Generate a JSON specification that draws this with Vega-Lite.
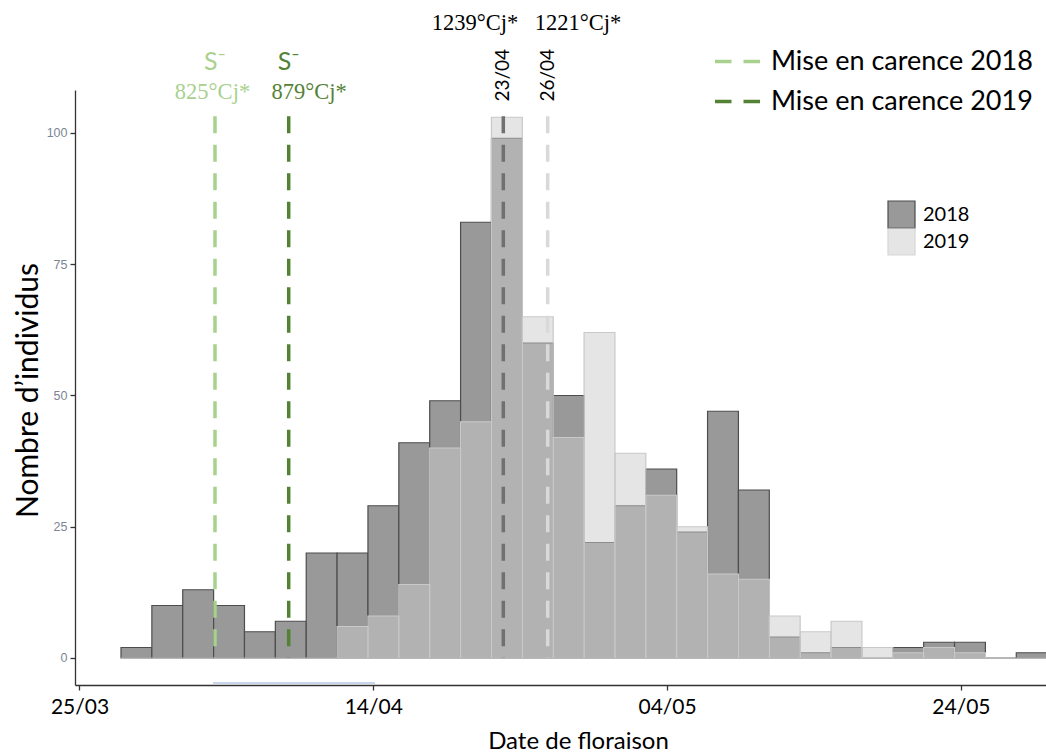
{
  "$schema": "https://vega.github.io/schema/vega-lite/v6.json",
  "width": 971,
  "height": 595,
  "autosize": {"type": "none"},
  "padding": {"left": 75, "top": 90, "right": 0, "bottom": 68},
  "background": "white",
  "config": {"view": {"stroke": null}, "font": "Lato"},
  "resolve": {"scale": {"fill": "independent"}, "legend": {"fill": "independent"}},
  "datasets": {
    "histo": [
      {"debut": "2019-03-27T19:48:00Z", "fin": "2019-03-29T22:14:00Z", "n2018": 2, "n2019": 0},
      {"debut": "2019-03-29T22:14:00Z", "fin": "2019-04-01T00:40:00Z", "n2018": 10, "n2019": 0},
      {"debut": "2019-04-01T00:40:00Z", "fin": "2019-04-03T03:07:00Z", "n2018": 13, "n2019": 0},
      {"debut": "2019-04-03T03:07:00Z", "fin": "2019-04-05T05:33:00Z", "n2018": 10, "n2019": 0},
      {"debut": "2019-04-05T05:33:00Z", "fin": "2019-04-07T07:59:00Z", "n2018": 5, "n2019": 0},
      {"debut": "2019-04-07T07:59:00Z", "fin": "2019-04-09T10:25:00Z", "n2018": 7, "n2019": 0},
      {"debut": "2019-04-09T10:25:00Z", "fin": "2019-04-11T12:51:00Z", "n2018": 20, "n2019": 0},
      {"debut": "2019-04-11T12:51:00Z", "fin": "2019-04-13T15:17:00Z", "n2018": 20, "n2019": 6},
      {"debut": "2019-04-13T15:17:00Z", "fin": "2019-04-15T17:43:00Z", "n2018": 29, "n2019": 8},
      {"debut": "2019-04-15T17:43:00Z", "fin": "2019-04-17T20:10:00Z", "n2018": 41, "n2019": 14},
      {"debut": "2019-04-17T20:10:00Z", "fin": "2019-04-19T22:36:00Z", "n2018": 49, "n2019": 40},
      {"debut": "2019-04-19T22:36:00Z", "fin": "2019-04-22T01:02:00Z", "n2018": 83, "n2019": 45},
      {"debut": "2019-04-22T01:02:00Z", "fin": "2019-04-24T03:28:00Z", "n2018": 99, "n2019": 103},
      {"debut": "2019-04-24T03:28:00Z", "fin": "2019-04-26T05:54:00Z", "n2018": 60, "n2019": 65},
      {"debut": "2019-04-26T05:54:00Z", "fin": "2019-04-28T08:20:00Z", "n2018": 50, "n2019": 42},
      {"debut": "2019-04-28T08:20:00Z", "fin": "2019-04-30T10:46:00Z", "n2018": 22, "n2019": 62},
      {"debut": "2019-04-30T10:46:00Z", "fin": "2019-05-02T13:13:00Z", "n2018": 29, "n2019": 39},
      {"debut": "2019-05-02T13:13:00Z", "fin": "2019-05-04T15:39:00Z", "n2018": 36, "n2019": 31},
      {"debut": "2019-05-04T15:39:00Z", "fin": "2019-05-06T18:05:00Z", "n2018": 24, "n2019": 25},
      {"debut": "2019-05-06T18:05:00Z", "fin": "2019-05-08T20:31:00Z", "n2018": 47, "n2019": 16},
      {"debut": "2019-05-08T20:31:00Z", "fin": "2019-05-10T22:57:00Z", "n2018": 32, "n2019": 15},
      {"debut": "2019-05-10T22:57:00Z", "fin": "2019-05-13T01:23:00Z", "n2018": 4, "n2019": 8},
      {"debut": "2019-05-13T01:23:00Z", "fin": "2019-05-15T03:50:00Z", "n2018": 1, "n2019": 5},
      {"debut": "2019-05-15T03:50:00Z", "fin": "2019-05-17T06:16:00Z", "n2018": 2, "n2019": 7},
      {"debut": "2019-05-17T06:16:00Z", "fin": "2019-05-19T08:42:00Z", "n2018": 0, "n2019": 2},
      {"debut": "2019-05-19T08:42:00Z", "fin": "2019-05-21T11:08:00Z", "n2018": 2, "n2019": 1},
      {"debut": "2019-05-21T11:08:00Z", "fin": "2019-05-23T13:34:00Z", "n2018": 3, "n2019": 2},
      {"debut": "2019-05-23T13:34:00Z", "fin": "2019-05-25T16:00:00Z", "n2018": 3, "n2019": 1},
      {"debut": "2019-05-25T16:00:00Z", "fin": "2019-05-27T18:26:00Z", "n2018": 0, "n2019": 0},
      {"debut": "2019-05-27T18:26:00Z", "fin": "2019-05-29T20:53:00Z", "n2018": 1, "n2019": 0}
    ],
    "carence": [
      {"date": "2019-04-03T05:22:00Z", "serie": "Mise en carence 2018", "degres": "825°Cj*", "date_degres": "2019-04-03T01:18:00Z"},
      {"date": "2019-04-08T05:47:00Z", "serie": "Mise en carence 2019", "degres": "879°Cj*", "date_degres": "2019-04-09T15:00:00Z"}
    ],
    "floraison": [
      {"date": "2019-04-22T20:24:00Z", "serie": "Floraison 2018", "jour": "23/04", "degres": "1239°Cj*", "date_degres": "2019-04-20T22:00:00Z"},
      {"date": "2019-04-25T20:53:00Z", "serie": "Floraison 2019", "jour": "26/04", "degres": "1221°Cj*", "date_degres": "2019-04-27T22:20:00Z"}
    ],
    "trait": [
      {"debut": "2019-04-03T02:07:00Z", "fin": "2019-04-14T02:50:00Z"}
    ]
  },
  "layer": [
    {
      "data": {"name": "histo"},
      "mark": {"type": "bar", "stroke": "#4d4d4d", "strokeWidth": 1.2},
      "encoding": {
        "x": {
          "field": "debut", "type": "temporal",
          "scale": {"type": "utc", "domain": [
            {"year": 2019, "month": 3, "date": 24, "hours": 16, "minutes": 40, "utc": true},
            {"year": 2019, "month": 5, "date": 29, "hours": 19, "minutes": 0, "utc": true}
          ]},
          "axis": {
            "values": [
              {"year": 2019, "month": 3, "date": 25, "utc": true},
              {"year": 2019, "month": 4, "date": 14, "utc": true},
              {"year": 2019, "month": 5, "date": 4, "utc": true},
              {"year": 2019, "month": 5, "date": 24, "utc": true}
            ],
            "labelExpr": "utcFormat(datum.value, '%d/%m')",
            "title": "Date de floraison",
            "titleFont": "Lato", "titleFontSize": 24, "titleFontWeight": "normal", "titleColor": "black",
            "titleX": 503, "titleY": 63, "titleAlign": "center", "titleBaseline": "alphabetic", "titleAnchor": null,
            "labelFont": "Lato", "labelFontSize": 21, "labelColor": "black", "labelPadding": 6,
            "tickSize": 5, "tickColor": "#333333", "tickWidth": 1.3,
            "domainColor": "#333333", "domainWidth": 1.3, "grid": false
          }
        },
        "x2": {"field": "fin"},
        "y": {
          "field": "n2018", "type": "quantitative", "stack": null,
          "scale": {"domain": [-5.143, 108.19], "nice": false, "zero": false},
          "axis": {
            "values": [0, 25, 50, 75, 100],
            "title": "Nombre d’individus",
            "titleFont": "Lato", "titleFontSize": 30, "titleFontWeight": "normal", "titleColor": "black",
            "titleX": -38, "titleY": 300, "titleAlign": "center", "titleBaseline": "alphabetic", "titleAngle": 270, "titleAnchor": null,
            "labelFont": "Liberation Sans", "labelFontSize": 12.5, "labelColor": "#7b8594", "labelPadding": 3,
            "tickSize": 5, "tickColor": "#333333", "tickWidth": 1.3,
            "domainColor": "#333333", "domainWidth": 1.3, "grid": false
          }
        },
        "y2": {"datum": 0},
        "fill": {
          "datum": "2018", "type": "nominal",
          "scale": {"domain": ["2018"], "range": ["#999999"]},
          "legend": {
            "title": null, "orient": "none", "legendX": 812, "legendY": 110,
            "symbolType": "square", "symbolSize": 729, "symbolStrokeWidth": 1.2, "symbolStrokeColor": "#4d4d4d",
            "labelFont": "Lato", "labelFontSize": 20, "labelColor": "black", "labelOffset": 7,
            "padding": 0
          }
        }
      }
    },
    {
      "data": {"name": "histo"},
      "mark": {"type": "bar", "fillOpacity": 0.5, "stroke": "#c9c9c9", "strokeWidth": 1.2},
      "encoding": {
        "x": {"field": "debut", "type": "temporal"},
        "x2": {"field": "fin"},
        "y": {"field": "n2019", "type": "quantitative", "stack": null},
        "y2": {"datum": 0},
        "fill": {
          "datum": "2019", "type": "nominal",
          "scale": {"domain": ["2019"], "range": ["#cccccc"]},
          "legend": {
            "title": null, "orient": "none", "legendX": 812, "legendY": 137,
            "symbolType": "square", "symbolSize": 729, "symbolStrokeWidth": 1.2, "symbolStrokeColor": "#b0b0b0",
            "symbolOpacity": 0.5,
            "labelFont": "Lato", "labelFontSize": 20, "labelColor": "black", "labelOffset": 7,
            "padding": 0
          }
        }
      }
    },
    {
      "data": {"name": "trait"},
      "mark": {"type": "rule", "stroke": "#b4c7e7", "strokeWidth": 1.5},
      "encoding": {
        "x": {"field": "debut", "type": "temporal"},
        "x2": {"field": "fin"},
        "y": {"datum": -4.76, "type": "quantitative"}
      }
    },
    {
      "data": {"name": "carence"},
      "mark": {"type": "rule", "strokeWidth": 3.5, "strokeDash": [17, 11.5]},
      "encoding": {
        "x": {"field": "date", "type": "temporal"},
        "y": {"datum": 103.2, "type": "quantitative"},
        "y2": {"datum": 0},
        "stroke": {
          "field": "serie", "type": "nominal",
          "scale": {"domain": ["Mise en carence 2018", "Mise en carence 2019"], "range": ["#a9d18e", "#548235"]},
          "legend": {
            "title": null, "orient": "none", "legendX": 638, "legendY": -53,
            "symbolType": "stroke", "symbolSize": 2025, "symbolStrokeWidth": 3.5, "symbolDash": [16.5, 12],
            "labelFont": "Lato", "labelFontSize": 27, "labelColor": "black", "labelOffset": 9, "labelLimit": 500,
            "rowPadding": 2, "padding": 0
          }
        }
      }
    },
    {
      "data": {"name": "floraison"},
      "mark": {"type": "rule", "strokeWidth": 3.5, "strokeDash": [17, 11.5]},
      "encoding": {
        "x": {"field": "date", "type": "temporal"},
        "y": {"datum": 103.2, "type": "quantitative"},
        "y2": {"datum": 0},
        "color": {
          "field": "serie", "type": "nominal",
          "scale": {"domain": ["Mise en carence 2018", "Mise en carence 2019", "Floraison 2018", "Floraison 2019"], "range": ["#a9d18e", "#548235", "#707070", "#d9d9d9"]},
          "legend": null
        }
      }
    },
    {
      "data": {"name": "carence"},
      "mark": {"type": "text", "font": "Lato", "fontSize": 25, "align": "center", "baseline": "alphabetic"},
      "encoding": {
        "x": {"field": "date", "type": "temporal"},
        "y": {"datum": 112, "type": "quantitative"},
        "text": {"value": "S⁻"},
        "color": {"field": "serie", "type": "nominal", "legend": null}
      }
    },
    {
      "data": {"name": "carence"},
      "mark": {"type": "text", "font": "Liberation Serif", "fontSize": 22.5, "align": "center", "baseline": "alphabetic"},
      "encoding": {
        "x": {"field": "date_degres", "type": "temporal"},
        "y": {"datum": 106.4, "type": "quantitative"},
        "text": {"field": "degres"},
        "color": {"field": "serie", "type": "nominal", "legend": null}
      }
    },
    {
      "data": {"name": "floraison"},
      "mark": {"type": "text", "font": "Liberation Serif", "fontSize": 22.5, "align": "center", "baseline": "alphabetic", "fill": "black"},
      "encoding": {
        "x": {"field": "date_degres", "type": "temporal"},
        "y": {"datum": 119.6, "type": "quantitative"},
        "text": {"field": "degres"}
      }
    },
    {
      "data": {"name": "floraison"},
      "mark": {"type": "text", "font": "Lato", "fontSize": 19, "align": "center", "baseline": "middle", "angle": 270, "fill": "black"},
      "encoding": {
        "x": {"field": "date", "type": "temporal"},
        "y": {"datum": 111, "type": "quantitative"},
        "text": {"field": "jour"}
      }
    }
  ]
}
